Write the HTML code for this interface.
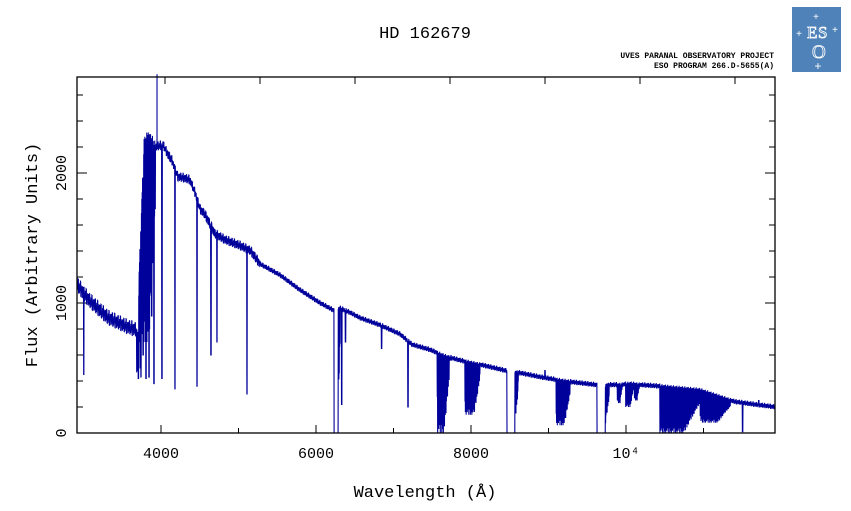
<!DOCTYPE html>
<html><head><meta charset="utf-8"><style>
html,body{margin:0;padding:0;background:#fff;}
svg{display:block;font-family:"Liberation Mono","DejaVu Sans Mono",monospace;}
</style></head><body>
<svg id="chart" width="851" height="511" viewBox="0 0 851 511">
<text x="425" y="38" font-size="17" text-anchor="middle">HD 162679</text>
<text x="774" y="58" font-size="8" text-anchor="end" font-weight="bold">UVES PARANAL OBSERVATORY PROJECT</text>
<text x="774" y="68" font-size="8" text-anchor="end" font-weight="bold">ESO PROGRAM 266.D-5655(A)</text>
<g>
<rect x="792" y="7" width="49" height="65" fill="#4f82b8"/>
<text x="807" y="38" font-size="17" fill="none" stroke="#fff" stroke-width="0.8" font-family="Liberation Serif,serif">E</text>
<text x="818" y="38" font-size="17" fill="none" stroke="#fff" stroke-width="0.8" font-family="Liberation Serif,serif">S</text>
<text x="812" y="58" font-size="19" fill="none" stroke="#fff" stroke-width="0.8" font-family="Liberation Serif,serif">O</text>
<text x="816" y="20" font-size="10" fill="#fff" text-anchor="middle">+</text>
<text x="799" y="37" font-size="10" fill="#fff" text-anchor="middle">+</text>
<text x="835" y="33" font-size="10" fill="#fff" text-anchor="middle">+</text>
<text x="818" y="70" font-size="12" fill="#fff" text-anchor="middle">+</text>
</g>
<g id="axes"></g>
<path id="spec" fill="none" stroke="#00009a" stroke-width="1.1"/>
<rect x="77" y="77" width="698" height="356" fill="none" stroke="#000" stroke-width="1.3"/>
<text x="425" y="497" font-size="17" text-anchor="middle">Wavelength (Å)</text>
<text transform="translate(37,255) rotate(-90)" font-size="17" text-anchor="middle">Flux (Arbitrary Units)</text>
</svg>
<script>
const contW=[3074,3200,3400,3600,3700,3715,3730,3780,3830,3870,3900,3980,4030,4070,4135,4200,4263,4320,4370,4420,4526,4632,4790,4900,5000,5210,5421,5632,5768,5842,5950,6053,6263,6474,6600,6790,6950,7100,7350,7600,7750,7950,8116,8300,8540,8700,8800,8900,9000,9200,9632,10000,10200,10421];
const contF=[1140,1020,885,815,790,700,1300,2250,2300,2250,2200,2215,2140,2100,1970,1960,1945,1840,1720,1680,1530,1485,1440,1400,1300,1215,1100,1000,946,960,925,885,830,760,680,640,590,560,520,477,460,430,410,390,370,370,370,380,370,360,330,240,220,200];
const lineW=[3145,3720,3740,3747,3770,3800,3832,3860,3884,3968,4105,4337,4484,4547,4863,5860,5900,6280,6558,7000,8000,10080,10250];
const lineF=[450,420,500,431,600,420,430,900,380,420,340,360,600,700,300,220,700,650,200,560,480,10,250];
const bandW1=[3700,3730,5779,6863,7158,7600,8116,8547,8850,9210,9632,8760,8940];
const bandW2=[3730,3900,5842,6990,7316,7720,8263,8674,8930,9632,9950,8810,8990];
const bandF=[450,700,0,0,140,0,60,0,200,0,80,230,250];
const bandPattern=[1,0.75,0.95,0.55,1,0.8,0.45,0.95,0.7,0.9,0.6,1,0.85,0.5,0.9];
const noise=[0,40,-25,55,-45,10,-30,30,-10,60,-50,20,-5,35,-40];
const yTicks=[0,1000,2000];
const xTicks=[4000,6000,8000,10000];
const xLabels=["4000","6000","8000","10⁴"];

const X=w=>165+(w-4000)*0.095;      // data scale (matches top axis)
const XB=w=>161+(w-4000)*0.0775;    // bottom axis labelling scale
const Y=f=>433-f*0.13;
function cont(w){for(let i=1;i<contW.length;i++){if(w<=contW[i]){const t=(w-contW[i-1])/(contW[i]-contW[i-1]);return contF[i-1]+t*(contF[i]-contF[i-1]);}}return contF[contF.length-1];}
const solidZero=[2,5,7];
let d="",k=0;
for(let w=3074;w<=10421;w+=2,k++){
  let c=cont(w);
  const amp=w<3720?1:(w<5000?0.6:0.3);
  let f=c+noise[(k>>1)%noise.length]*amp;
  for(let b=0;b<bandW1.length;b++){
    if(w>=bandW1[b]&&w<=bandW2[b]){
      const frac=(w-bandW1[b])/(bandW2[b]-bandW1[b]);
      if(solidZero.indexOf(b)>=0&&frac<0.7){f=0;}
      else if(k%2===0){const taper=frac<0.6?1:(1-(frac-0.6)/0.4*0.7);f=c-(c-bandF[b])*bandPattern[(k/2|0)%bandPattern.length]*taper;}
    }
  }
  for(let l=0;l<lineW.length;l++){if(Math.abs(w-lineW[l])<=2){f=lineF[l];}}
  d+=(d?"L":"M")+X(w).toFixed(2)+","+Y(Math.max(0,f)).toFixed(2);
}
d+="M"+X(3916)+","+Y(2760)+"L"+X(3916)+","+Y(2200);
document.getElementById('spec').setAttribute('d',d);

const ax=document.getElementById('axes');
const NS="http://www.w3.org/2000/svg";
function mk(tag,attrs){const e=document.createElementNS(NS,tag);for(const a in attrs)e.setAttribute(a,attrs[a]);ax.appendChild(e);return e;}
for(let w=4000;w<=11000;w+=1000){
  const major=xTicks.indexOf(w)>=0;
  const t1=mk('line',{x1:XB(w),x2:XB(w),y1:433,y2:433-(major?8:5),stroke:'#000'});
  
  
}
for(let w=4000;w<=10000;w+=1000){
  const t2=mk('line',{x1:X(w),x2:X(w),y1:77,y2:84,stroke:'#000'});
  
  
}
xTicks.forEach((w,i)=>{
  const t=mk('text',{x:XB(w),y:458,'font-size':15,'text-anchor':'middle'});
  t.textContent=xLabels[i];
  
  
});
for(let f=0;f<=2600;f+=200){
  const major=yTicks.indexOf(f)>=0;
  const a=mk('line',{x1:77,x2:77+(major?10:6),y1:Y(f),y2:Y(f),stroke:'#000'});
  
  
  const b=mk('line',{x1:775,x2:775-(major?10:6),y1:Y(f),y2:Y(f),stroke:'#000'});
  
  
}
yTicks.forEach(f=>{
  const t=mk('text',{transform:`translate(66,${Y(f)}) rotate(-90)`,'font-size':15,'text-anchor':'middle'});
  t.textContent=String(f);
  
  
});
</script>
</body></html>
